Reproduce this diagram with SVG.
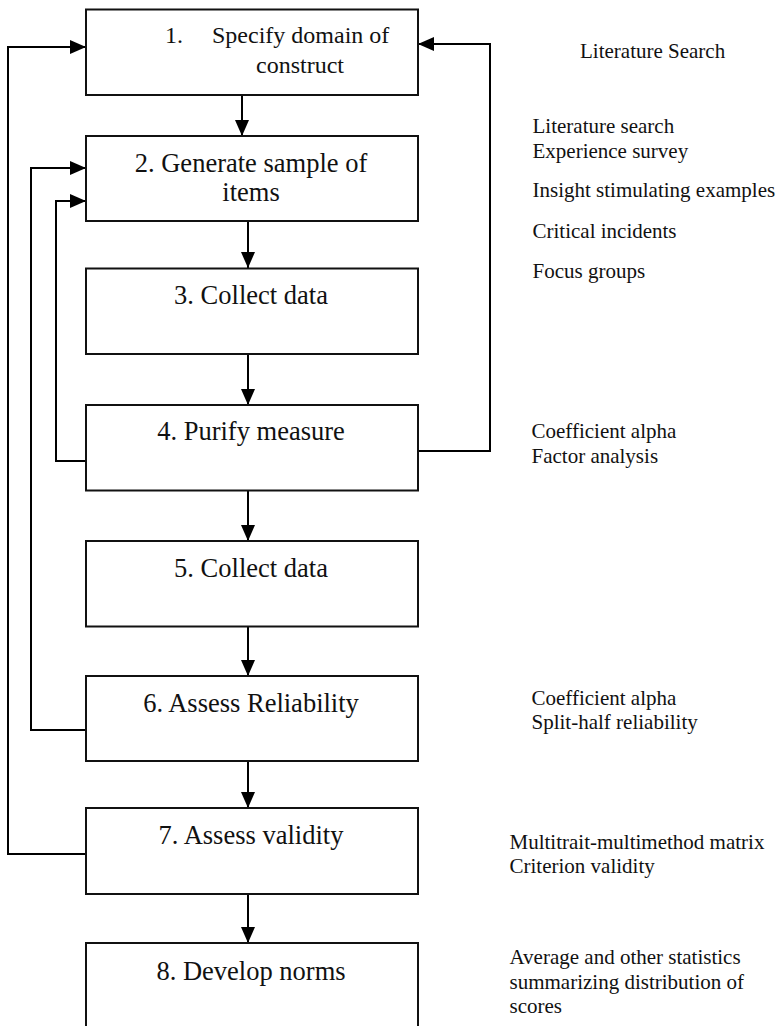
<svg xmlns="http://www.w3.org/2000/svg" width="776" height="1026" viewBox="0 0 776 1026">
<defs>
<marker id="ah" markerUnits="userSpaceOnUse" markerWidth="16" markerHeight="16" viewBox="0 0 16 16" refX="16" refY="8" orient="auto">
<path d="M0,1 L16,8 L0,15 Z" fill="#000"/>
</marker>
<style>
.box{fill:#fff;stroke:#111;stroke-width:2}
.bt{font-family:"Liberation Serif","Times New Roman",serif;font-size:26.5px;fill:#111;text-anchor:middle}
.bt1{font-family:"Liberation Serif","Times New Roman",serif;font-size:24px;fill:#111}
.lab{font-family:"Liberation Serif","Times New Roman",serif;font-size:21px;fill:#111}
.con{fill:none;stroke:#000;stroke-width:2;marker-end:url(#ah)}
</style>
</defs>
<rect width="776" height="1026" fill="#fff"/>
<g id="connectors">
<line class="con" x1="242" y1="95" x2="242" y2="136"/>
<line class="con" x1="248" y1="221" x2="248" y2="268"/>
<line class="con" x1="248" y1="354" x2="248" y2="405"/>
<line class="con" x1="248" y1="491" x2="248" y2="541"/>
<line class="con" x1="248" y1="627" x2="248" y2="676"/>
<line class="con" x1="248" y1="761" x2="248" y2="808"/>
<line class="con" x1="248" y1="894" x2="248" y2="943"/>
<polyline class="con" points="86,854 8,854 8,47 86,47"/>
<polyline class="con" points="86,730 31,730 31,168 86,168"/>
<polyline class="con" points="86,461 56,461 56,201 86,201"/>
<polyline class="con" points="418,451 490,451 490,44 418,44"/>
</g>
<g id="node1">
<rect class="box" x="86" y="9.5" width="332" height="85.5"/>
<text class="bt1" x="165" y="42.5">1.</text>
<text class="bt1" x="212" y="42.5">Specify domain of</text>
<text class="bt1" x="256" y="73">construct</text>
</g>
<g id="node2">
<rect class="box" x="86" y="136" width="332" height="85"/>
<text class="bt" x="251" y="172">2. Generate sample of</text>
<text class="bt" x="251" y="201">items</text>
</g>
<g id="node3">
<rect class="box" x="86" y="268.5" width="332" height="85.5"/>
<text class="bt" x="251" y="304">3. Collect data</text>
</g>
<g id="node4">
<rect class="box" x="86" y="405" width="332" height="85.5"/>
<text class="bt" x="251" y="440">4. Purify measure</text>
</g>
<g id="node5">
<rect class="box" x="86" y="541" width="332" height="85.5"/>
<text class="bt" x="251" y="576.5">5. Collect data</text>
</g>
<g id="node6">
<rect class="box" x="86" y="676" width="332" height="85"/>
<text class="bt" x="251" y="712">6. Assess Reliability</text>
</g>
<g id="node7">
<rect class="box" x="86" y="808" width="332" height="86"/>
<text class="bt" x="251" y="844">7. Assess validity</text>
</g>
<g id="node8">
<rect class="box" x="86" y="943" width="332" height="100"/>
<text class="bt" x="251" y="980">8. Develop norms</text>
</g>
<g id="labels">
<text class="lab" x="580" y="58">Literature Search</text>
<text class="lab" x="532.5" y="132.5">Literature search</text>
<text class="lab" x="532.5" y="157.5">Experience survey</text>
<text class="lab" x="532.5" y="196.5">Insight stimulating examples</text>
<text class="lab" x="532.5" y="237.5">Critical incidents</text>
<text class="lab" x="532.5" y="278">Focus groups</text>
<text class="lab" x="531.5" y="438">Coefficient alpha</text>
<text class="lab" x="531.5" y="462.5">Factor analysis</text>
<text class="lab" x="531.5" y="705">Coefficient alpha</text>
<text class="lab" x="531.5" y="729">Split-half reliability</text>
<text class="lab" x="509.5" y="849">Multitrait-multimethod matrix</text>
<text class="lab" x="509.5" y="872.5">Criterion validity</text>
<text class="lab" x="509.5" y="964">Average and other statistics</text>
<text class="lab" x="509.5" y="989">summarizing distribution of</text>
<text class="lab" x="509.5" y="1012.5">scores</text>
</g>
</svg>
